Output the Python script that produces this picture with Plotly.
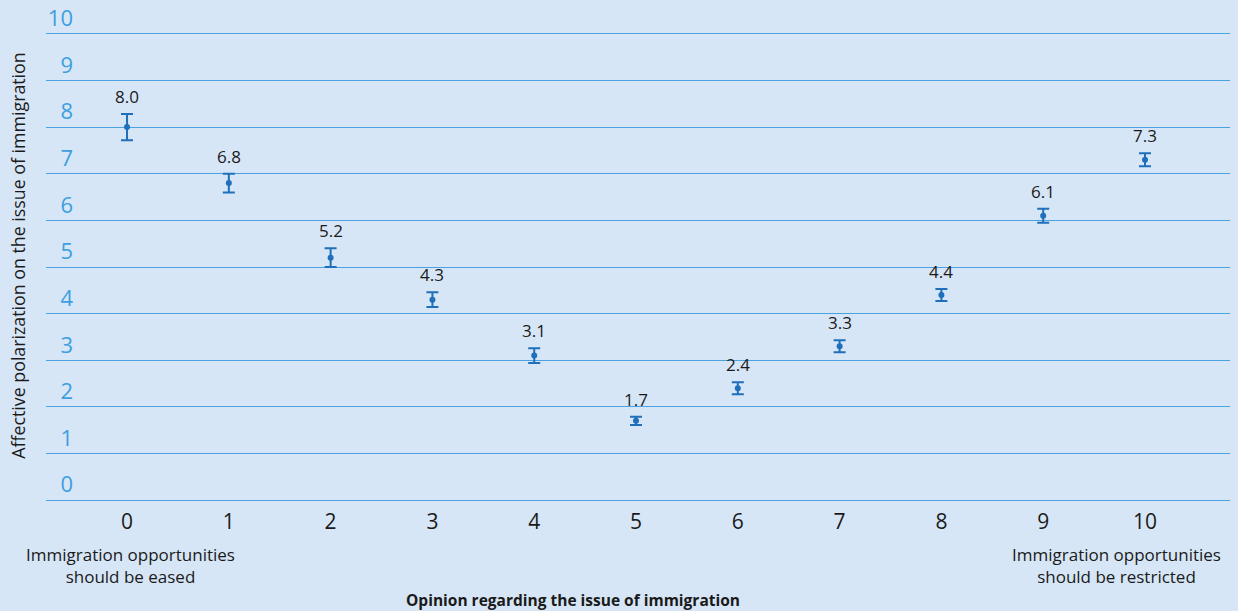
import plotly.graph_objects as go

# Opinion scale (0 = ease immigration ... 10 = restrict immigration)
opinion = [0, 1, 2, 3, 4, 5, 6, 7, 8, 9, 10]
polarization = [8.0, 6.8, 5.2, 4.3, 3.1, 1.7, 2.4, 3.3, 4.4, 6.1, 7.3]
ci_half = [0.28, 0.20, 0.20, 0.16, 0.16, 0.09, 0.13, 0.13, 0.13, 0.15, 0.14]
y_ticks = list(range(0, 11))

BG = "#d6e6f6"
GRID = "#4aa3df"
MARK = "#1f6fba"
TEXT = "#1a1a1a"
FONT = "Open Sans"

fig = go.Figure()

fig.add_trace(go.Scatter(
    x=opinion,
    y=polarization,
    mode="markers",
    marker=dict(color=MARK, size=6),
    error_y=dict(type="data", array=ci_half, visible=True,
                 color=MARK, thickness=2, width=6),
    hoverinfo="x+y",
    showlegend=False,
))

# Value labels above each confidence interval
for xv, yv, e in zip(opinion, polarization, ci_half):
    fig.add_annotation(
        x=xv, y=yv + e, text=f"{yv:.1f}",
        showarrow=False, yanchor="bottom", yshift=4,
        font=dict(family=FONT, size=17, color=TEXT),
    )

# Endpoint descriptions under the scale
fig.add_annotation(
    x=0.03, xref="x", y=-0.083, yref="paper",
    text="Immigration opportunities<br>should be eased",
    showarrow=False, yanchor="top", xanchor="center",
    font=dict(family=FONT, size=17, color=TEXT), align="center",
)
fig.add_annotation(
    x=9.72, xref="x", y=-0.083, yref="paper",
    text="Immigration opportunities<br>should be restricted",
    showarrow=False, yanchor="top", xanchor="center",
    font=dict(family=FONT, size=17, color=TEXT), align="center",
)

# Axis titles
fig.add_annotation(
    x=0.445, xref="paper", y=-0.208, yref="paper",
    text="<b>Opinion regarding the issue of immigration</b>",
    showarrow=False, yanchor="middle", xanchor="center",
    font=dict(family=FONT, size=15.5, color=TEXT),
)
fig.add_annotation(
    x=0, xref="paper", xshift=-28, y=0.524, yref="paper",
    text="Affective polarization on the issue of immigration",
    showarrow=False, textangle=-90, xanchor="center", yanchor="middle",
    font=dict(family=FONT, size=17.8, color=TEXT),
)

fig.update_layout(
    width=1238, height=611,
    margin=dict(l=46, r=8, t=32, b=109),
    paper_bgcolor=BG, plot_bgcolor=BG,
    font=dict(family=FONT, color=TEXT),
    xaxis=dict(
        range=[-0.796, 10.835], automargin=False,
        tickmode="array", tickvals=opinion, ticktext=[str(v) for v in opinion],
        showgrid=False, zeroline=False, showline=False,
        ticks="", tickfont=dict(family=FONT, size=21, color=TEXT),
        ticklabelstandoff=5,
    ),
    yaxis=dict(
        range=[-0.04, 10.04], automargin=False,
        tickmode="array", tickvals=y_ticks, ticktext=[str(v) for v in y_ticks],
        showgrid=True, gridcolor=GRID, gridwidth=1.3,
        zeroline=False, showline=False, ticks="",
        ticklabelposition="outside top", ticklabelstandoff=-28,
        tickfont=dict(family=FONT, size=22, color="#3d9ee0"),
    ),
)

fig.write_html("out.html")
